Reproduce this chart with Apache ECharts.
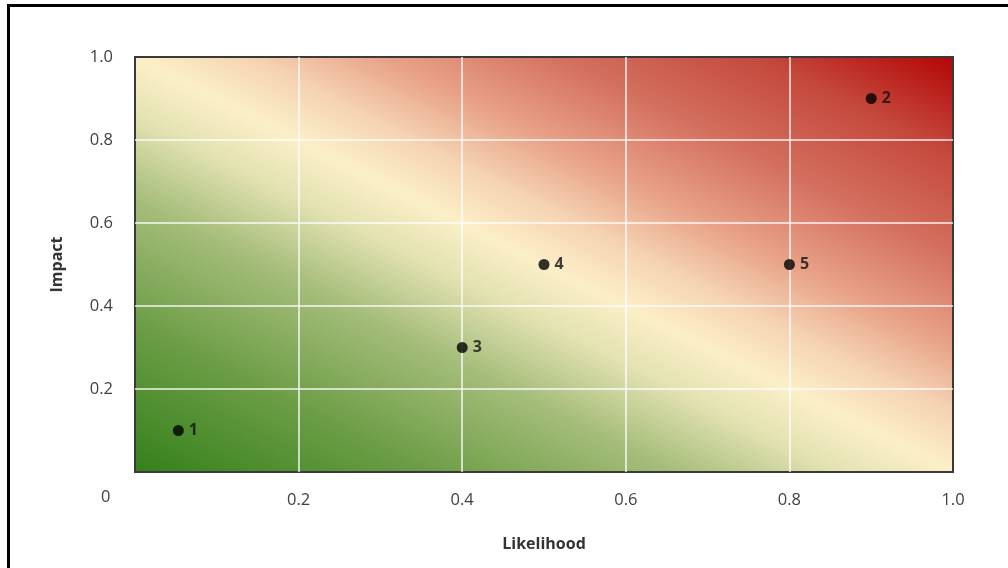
<!DOCTYPE html>
<html>
<head>
<meta charset="utf-8">
<script src="https://cdn.jsdelivr.net/npm/echarts@6/dist/echarts.min.js"></script>
<style>
  html, body { margin: 0; padding: 0; background: #fff; }
  #frame { position: absolute; left: 7px; top: 4px; width: 1001px; height: 564px;
           border-top: 3px solid #000; border-left: 3px solid #000; box-sizing: border-box; }
  #chart { position: absolute; left: 0; top: 0; width: 1008px; height: 568px; }
</style>
</head>
<body>
<div id="frame"></div>
<div id="chart"></div>
<script>
// Data
const riskIds = ['1', '2', '3', '4', '5'];
const likelihood = [0.053, 0.9, 0.4, 0.5, 0.8];
const impact = [0.1, 0.9, 0.3, 0.5, 0.5];
const axisTicks = [0, 0.2, 0.4, 0.6, 0.8, 1.0];

const W = 1008, H = 568;
const gLeft = 135, gTop = 57, gRight = 55, gBottom = 96;
const pw = W - gLeft - gRight, ph = H - gTop - gBottom;
const L2 = pw * pw + ph * ph;
const a = ph * ph / L2, b = pw * pw / L2;

const bgGrad = {
  type: 'linear',
  x: 0.5 - a, y: 0.5 + b, x2: 0.5 + a, y2: 0.5 - b,
  colorStops: [
    { offset: 0, color: '#33801a' },
    { offset: 0.18, color: '#6c9d46' },
    { offset: 0.33, color: '#a5bd7a' },
    { offset: 0.43, color: '#e3e2b2' },
    { offset: 0.5, color: '#fcefc8' },
    { offset: 0.57, color: '#f5d3b3' },
    { offset: 0.65, color: '#e8a288' },
    { offset: 0.76, color: '#d36f5e' },
    { offset: 0.88, color: '#c4483c' },
    { offset: 1, color: '#b30404' }
  ]
};

const chart = echarts.init(document.getElementById('chart'), null, { renderer: 'canvas' });
const font = '"Open Sans", "Noto Sans", sans-serif';
const fmt = v => (Math.abs(v) < 1e-9 ? '' : v.toFixed(1));
const split = { show: true, showMinLine: false, showMaxLine: false,
  lineStyle: { color: 'rgba(255,255,255,0.9)', width: 1.5 } };

chart.setOption({
  animation: false,
  backgroundColor: 'transparent',
  textStyle: { fontFamily: font },
  grid: {
    left: gLeft, top: gTop, right: gRight, bottom: gBottom,
    show: true, backgroundColor: bgGrad, borderColor: '#3a3a3a', borderWidth: 2
  },
  xAxis: {
    type: 'value', min: axisTicks[0], max: axisTicks[axisTicks.length - 1], interval: 0.2,
    name: 'Likelihood', nameLocation: 'middle', nameGap: 64,
    nameTextStyle: { fontFamily: font, fontWeight: 'bold', fontSize: 16, color: '#333' },
    axisLine: { show: false }, axisTick: { show: false },
    axisLabel: { formatter: fmt, margin: 20, fontSize: 16.5, color: '#404040', fontFamily: font },
    splitLine: split
  },
  yAxis: {
    type: 'value', min: axisTicks[0], max: axisTicks[axisTicks.length - 1], interval: 0.2,
    name: 'Impact', nameLocation: 'middle', nameGap: 70,
    nameTextStyle: { fontFamily: font, fontWeight: 'bold', fontSize: 16, color: '#333' },
    axisLine: { show: false }, axisTick: { show: false },
    axisLabel: { formatter: fmt, margin: 22, fontSize: 16.5, color: '#404040', fontFamily: font },
    splitLine: split
  },
  graphic: [{
    type: 'text', left: 101, top: 489,
    style: { text: '0', font: '16.5px ' + font, fill: '#404040' }
  }],
  series: [{
    type: 'scatter',
    symbol: 'circle', symbolSize: 11,
    itemStyle: { color: '#000' },
    label: {
      show: true, position: 'right', distance: 5,
      formatter: p => riskIds[p.dataIndex],
      fontFamily: font, fontWeight: 'bold', fontSize: 16, color: '#111'
    },
    data: likelihood.map((x, i) => [x, impact[i]])
  }]
});
</script>
</body>
</html>
